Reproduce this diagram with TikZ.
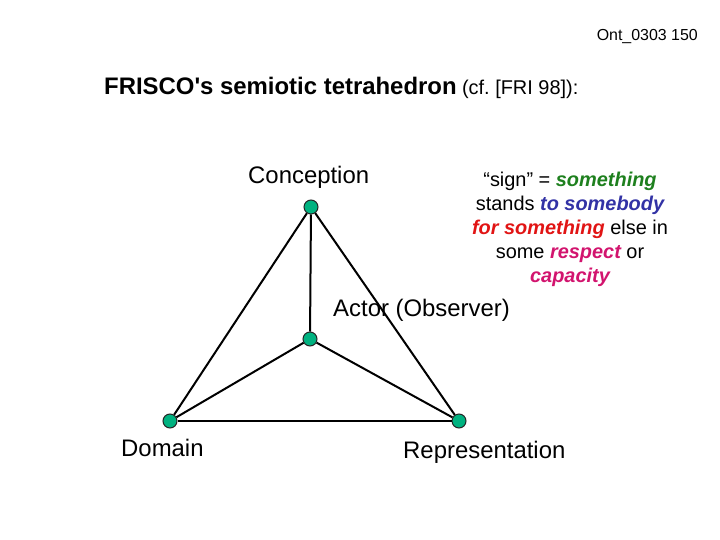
\documentclass[tikz,border=0pt]{standalone}
\usepackage{fontspec}
\setmainfont{Liberation Sans}[Ligatures=TeXOff]
\usetikzlibrary{positioning}
\definecolor{dotgreen}{RGB}{0,178,128}
\definecolor{signgreen}{RGB}{30,128,30}
\definecolor{signblue}{RGB}{50,50,165}
\definecolor{signred}{RGB}{225,20,20}
\definecolor{signpink}{RGB}{210,20,110}
\frenchspacing

\begin{document}
\begin{tikzpicture}[x=1bp, y=-1bp,
    vertex/.style={circle, draw=black!85, line width=1pt, fill=dotgreen, minimum size=14bp, inner sep=0pt},
    edge/.style={line width=2bp},
    label/.style={font=\fontsize{24}{28}\selectfont, inner sep=0pt, anchor=base west}]
        \useasboundingbox (0,0) rectangle (720,540);

        \node[font=\fontsize{16}{18}\selectfont, inner sep=0pt, anchor=base east] (slideno) at (698,41) {Ont\_0303 150};
        \node[font=\fontsize{24}{28}\selectfont\bfseries, inner sep=0pt, anchor=base west] (title) at (104,95) {FRISCO's semiotic tetrahedron};
        \node[font=\fontsize{20}{24}\selectfont, inner sep=0pt, right=5bp of title.base east, anchor=base west] (cite) {(cf. [FRI 98]):};

        % corners of the tetrahedron
        \node[vertex] (conception) at (311,207) {};
        \node[vertex] (actor) at (310,339) {};
        \node[vertex] (domain) at (170,421) {};
        \node[vertex] (representation) at (459,421) {};

        \draw[edge] (conception) -- (domain);
        \draw[edge] (conception) -- (representation);
        \draw[edge] (conception) -- (actor);
        \draw[edge] (actor) -- (domain);
        \draw[edge] (actor) -- (representation);
        \draw[edge] (domain) -- (representation);

        \node[label] (conceptionlbl) at (248,184) {Conception};
        \node[label] (actorlbl) at (333,316) {Actor (Observer)};
        \node[label] (domainlbl) at (121,456) {Domain};
        \node[label] (representationlbl) at (403,458) {Representation};

        \node[font=\fontsize{20}{24}\selectfont, align=center, inner sep=0pt, anchor=north] (sign) at (570,172)
            {“sign” = \textcolor{signgreen}{\bfseries\itshape something}\\
             stands \textcolor{signblue}{\bfseries\itshape to somebody}\\
             \textcolor{signred}{\bfseries\itshape for something} else in\\
             some \textcolor{signpink}{\bfseries\itshape respect} or\\
             \textcolor{signpink}{\bfseries\itshape capacity}};
    \end{tikzpicture}
\end{document}
